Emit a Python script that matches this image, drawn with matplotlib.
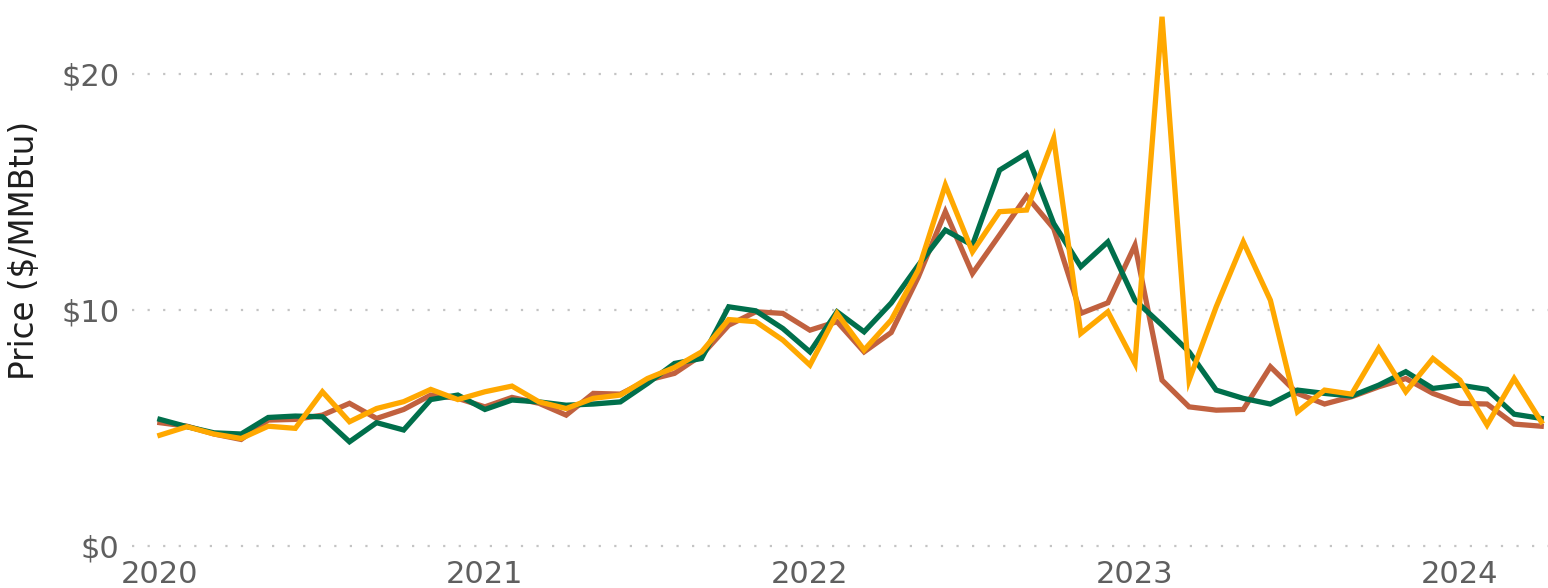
import numpy as np
import matplotlib.pyplot as plt

# monthly prices, Jan 2020 - Apr 2024 ($/MMBtu)
months = np.arange(52)
year_ticks = [0, 12, 24, 36, 48]
year_labels = ['2020', '2021', '2022', '2023', '2024']
y_ticks = [0, 10, 20]
y_tick_labels = ['$0', '$10', '$20']

green = [5.37, 5.06, 4.80, 4.75, 5.45, 5.51, 5.48, 4.42, 5.23, 4.92, 6.21, 6.40,
         5.79, 6.19, 6.11, 5.97, 6.02, 6.11, 6.89, 7.74, 7.95, 10.14, 9.97, 9.22,
         8.23, 9.93, 9.08, 10.30, 11.90, 13.39, 12.75, 15.93, 16.64, 13.67, 11.84, 12.89,
         10.42, 9.36, 8.23, 6.61, 6.26, 6.02, 6.61, 6.47, 6.36, 6.82, 7.39, 6.68,
         6.82, 6.64, 5.59, 5.41]
red = [5.23, 5.08, 4.75, 4.52, 5.34, 5.37, 5.55, 6.05, 5.41, 5.79, 6.40, 6.26,
       5.90, 6.30, 6.05, 5.55, 6.47, 6.44, 7.03, 7.32, 8.09, 9.36, 9.93, 9.86,
       9.15, 9.51, 8.23, 9.05, 11.40, 14.17, 11.55, 13.18, 14.83, 13.46, 9.86, 10.31,
       12.75, 7.03, 5.90, 5.76, 5.79, 7.60, 6.47, 6.02, 6.33, 6.75, 7.10, 6.47,
       6.05, 6.02, 5.17, 5.08]
orange = [4.70, 5.06, 4.75, 4.56, 5.08, 4.99, 6.54, 5.27, 5.83, 6.12, 6.64, 6.21,
          6.54, 6.78, 6.11, 5.83, 6.26, 6.40, 7.10, 7.57, 8.23, 9.60, 9.51, 8.73,
          7.67, 9.86, 8.31, 9.58, 11.70, 15.30, 12.47, 14.17, 14.24, 17.28, 9.01, 9.93,
          7.74, 22.43, 7.03, 10.14, 12.89, 10.42, 5.69, 6.61, 6.44, 8.38, 6.54, 7.95,
          7.03, 5.13, 7.10, 5.27]

fig = plt.figure(figsize=(15.48, 5.88), dpi=100)
ax = fig.add_axes([132 / 1548, 36 / 588, 1 - 132 / 1548, 552 / 588])

ax.plot(months, red, color='#c1613f', linewidth=3.8, solid_joinstyle='miter')
ax.plot(months, green, color='#006f4b', linewidth=3.8, solid_joinstyle='miter')
ax.plot(months, orange, color='#ffa800', linewidth=3.8, solid_joinstyle='miter')

ax.set_xlim(-1.03, 51.25)
ax.set_ylim(-0.25, 23.14)

ax.set_xticks(year_ticks)
ax.set_xticklabels(year_labels)
ax.set_yticks(y_ticks)
ax.set_yticklabels(y_tick_labels)
ax.tick_params(length=0, labelsize=22, colors='#5f5f5f', pad=9)
ax.tick_params(axis='x', pad=6)

for s in ax.spines.values():
    s.set_visible(False)

ax.grid(True, axis='y', linestyle=(0, (1, 6)), color='#c4c4c4', linewidth=1.6)
ax.set_axisbelow(True)

ax.set_ylabel('Price ($/MMBtu)', fontsize=23.5, color='#1e1e1e')
ax.yaxis.set_label_coords(-0.064, 0.547)

plt.savefig('out.png', dpi=100)
